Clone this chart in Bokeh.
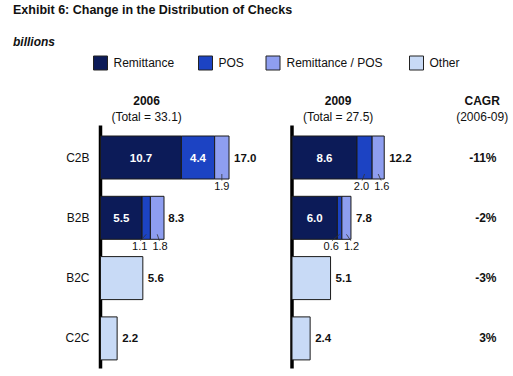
from bokeh.plotting import figure
from bokeh.models import Range1d
from bokeh.embed import file_html
from bokeh.resources import INLINE
from bokeh.core.properties import value

# ---------------- data ----------------
categories = ["C2B", "B2B", "B2C", "C2C"]
series = ["Remittance", "POS", "Remittance / POS", "Other"]
colors = ["#0c1b58", "#1c43c3", "#8e9ef0", "#c8daf6"]

remit_2006 = [10.7, 5.5, 0.0, 0.0]
pos_2006 = [4.4, 1.1, 0.0, 0.0]
rempos_2006 = [1.9, 1.8, 0.0, 0.0]
other_2006 = [0.0, 0.0, 5.6, 2.2]
total_2006 = [17.0, 8.3, 5.6, 2.2]

remit_2009 = [8.6, 6.0, 0.0, 0.0]
pos_2009 = [2.0, 0.6, 0.0, 0.0]
rempos_2009 = [1.6, 1.2, 0.0, 0.0]
other_2009 = [0.0, 0.0, 5.1, 2.4]
total_2009 = [12.2, 7.8, 5.1, 2.4]

years = ["2006", "2009"]
year_totals = ["(Total = 33.1)", "(Total = 27.5)"]
cagr_header = ["CAGR", "(2006-09)"]
cagr = ["-11%", "-2%", "-3%", "3%"]

title = "Exhibit 6: Change in the Distribution of Checks"
unit_label = "billions"

# ---------------- layout ----------------
W, H = 513, 376
PXU = 7.56            # pixels per billion
AX0 = 100             # pixel position of the 2006 axis
PANEL_OFF = [0.0, 25.33]
ROW0, PITCH, BAR_H = 157, 60.3, 43
FONT = value("Liberation Sans")


def px(v):
    return v / PXU


def fx(page_x):
    return (page_x - AX0) / PXU


p = figure(width=W, height=H, x_range=Range1d(-AX0 / PXU, (W - AX0) / PXU),
           y_range=Range1d(H, 0), output_backend="svg", toolbar_location=None,
           x_axis_type=None, y_axis_type=None, min_border=0)
p.grid.visible = False
p.outline_line_color = None
p.background_fill_color = "white"
p.border_fill_color = "white"

row_y = [ROW0 + i * PITCH for i in range(len(categories))]


def txt(x, y, t, size="12px", style="normal", align="left", color="#111111",
        baseline="middle", x_offset=0):
    p.text(x=x, y=y, text=t, text_font=FONT, text_font_size=value(size),
           text_font_style=style, text_align=align, text_baseline=baseline,
           text_color=color, x_offset=x_offset)


# title, unit label
txt([fx(12.5)], [9], [title], size="12.5px", style="bold")
txt([fx(12.5)], [41], [unit_label], size="12px", style="bold italic")

# legend
leg_sq = [100, 205, 272.5, 416]
leg_tx = [113, 218, 286, 429]
p.rect(x=[fx(v) for v in leg_sq], y=[62.5] * 4, width=14, height=14,
       width_units="screen", height_units="screen", fill_color=colors,
       line_color="#222222", line_width=1)
txt([fx(v) for v in leg_tx], [62.5] * 4, series, size="12px")

# category labels
txt([fx(89)] * 4, row_y, categories, size="12px", align="right")

panels = [
    (remit_2006, pos_2006, rempos_2006, other_2006, total_2006),
    (remit_2009, pos_2009, rempos_2009, other_2009, total_2009),
]

for k, (rem, pos, rp, oth, tot) in enumerate(panels):
    off = PANEL_OFF[k]
    # header
    txt([off + 6.1], [100], [years[k]], size="12px", style="bold", align="center")
    txt([off + 6.1], [116], [year_totals[k]], size="12px", align="center")
    # axis line
    p.segment(x0=[off], y0=[125], x1=[off], y1=[368], line_color="black", line_width=3.5)

    stacks = [rem, pos, rp, oth]
    for i in range(len(categories)):
        start = 0.0
        small = []
        for s, vals in enumerate(stacks):
            v = vals[i]
            if v > 0:
                p.hbar(y=[row_y[i]], left=[off + start], right=[off + start + v],
                       height=BAR_H, fill_color=colors[s], line_color="#1a1a1a",
                       line_width=1)
                if s < 3:
                    if v >= 3:
                        txt([off + start + v / 2], [row_y[i]], ["%.1f" % v],
                            size="11.5px", style="bold", align="center", color="white")
                    else:
                        small.append((start, v))
                start += v
        # total label
        txt([off + tot[i]], [row_y[i]], ["%.1f" % tot[i]], size="11.5px",
            style="bold", x_offset=5)
        # small segment labels below the bar
        ly = row_y[i] + 28
        bottom = row_y[i] + BAR_H / 2
        if len(small) == 1:
            s0, v0 = small[0]
            cx = off + s0 + v0 / 2
            txt([cx], [ly], ["%.1f" % v0], size="11px", align="center")
            p.segment(x0=[cx], y0=[bottom - 5], x1=[cx], y1=[ly - 5],
                      line_color="#333333", line_width=0.8)
        elif len(small) == 2:
            boundary = off + small[1][0]
            (s0, v0), (s1, v1) = small
            txt([boundary - px(3)], [ly], ["%.1f" % v0], size="11px", align="right")
            txt([boundary + px(2)], [ly], ["%.1f" % v1], size="11px", align="left")
            p.segment(x0=[off + s0 + v0 / 2, off + s1 + v1 / 2], y0=[bottom - 5] * 2,
                      x1=[boundary - px(10), boundary + px(9)], y1=[ly - 5] * 2,
                      line_color="#333333", line_width=0.8)

# CAGR column
txt([fx(481.7)], [100], [cagr_header[0]], size="12px", style="bold", align="center")
txt([fx(481.7)], [116], [cagr_header[1]], size="12px", align="center")
txt([fx(496)] * 4, row_y, cagr, size="12px", style="bold", align="right")

open("out.html", "w").write(file_html(p, INLINE))
